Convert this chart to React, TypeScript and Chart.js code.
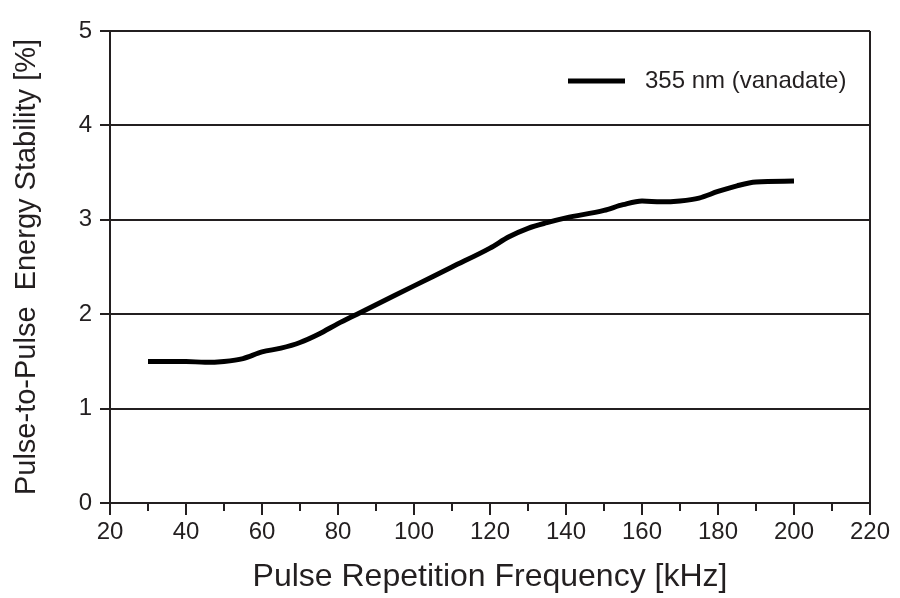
import { useEffect, useRef } from "react";
import { Chart, registerables } from "chart.js";

Chart.register(...registerables);

const frequencies = [30, 40, 45, 50, 55, 60, 65, 70, 75, 80, 85, 90, 100, 110, 120, 125, 130, 135, 140, 150, 155, 160, 165, 170, 175, 180, 185, 190, 200];
const stability = [1.5, 1.5, 1.49, 1.5, 1.53, 1.6, 1.64, 1.7, 1.79, 1.9, 2.0, 2.1, 2.3, 2.5, 2.7, 2.82, 2.91, 2.97, 3.02, 3.1, 3.16, 3.2, 3.19, 3.2, 3.23, 3.3, 3.36, 3.4, 3.41];
const seriesLabel = "355 nm (vanadate)";
const xTitle = "Pulse Repetition Frequency [kHz]";
const yTitle = "Pulse-to-Pulse  Energy Stability [%]";
const xMin = 20;
const xMax = 220;
const xMinorStep = 10;
const xMajorStep = 20;
const yMin = 0;
const yMax = 5;

const DARK = "#231f20";
const FONT = "'Liberation Sans', Arial, Helvetica, sans-serif";

const extrasPlugin = {
  id: "extras",
  afterDraw(chart: any) {
    const ctx = chart.ctx;
    const xs = chart.scales.x;
    const area = chart.chartArea;
    ctx.save();
    // minor ticks
    ctx.strokeStyle = DARK;
    ctx.lineWidth = 2;
    for (let v = xMin + xMinorStep; v < xMax; v += xMajorStep) {
      const px = Math.round(xs.getPixelForValue(v));
      ctx.beginPath();
      ctx.moveTo(px, area.bottom);
      ctx.lineTo(px, area.bottom + 8);
      ctx.stroke();
    }
    // legend
    const ds = chart.data.datasets[0];
    const ly = area.top + 50;
    const lx = area.right - 302;
    ctx.strokeStyle = ds.borderColor;
    ctx.lineWidth = 5;
    ctx.beginPath();
    ctx.moveTo(lx, ly);
    ctx.lineTo(lx + 57, ly);
    ctx.stroke();
    ctx.fillStyle = DARK;
    ctx.font = `24px ${FONT}`;
    ctx.textBaseline = "middle";
    ctx.textAlign = "left";
    ctx.fillText(ds.label, lx + 77, ly);
    ctx.restore();
  },
};

export default function App() {
  const ref = useRef<HTMLCanvasElement>(null);
  useEffect(() => {
    document.body.style.margin = "0";
    const chart = new Chart(ref.current!, {
      type: "line",
      data: {
        datasets: [
          {
            label: seriesLabel,
            data: frequencies.map((f, i) => ({ x: f, y: stability[i] })),
            borderColor: "#000000",
            borderWidth: 5,
            pointRadius: 0,
            cubicInterpolationMode: "monotone",
            fill: false,
          },
        ],
      },
      options: {
        animation: false,
        responsive: false,
        layout: { padding: { top: 31, right: 30, left: 0, bottom: 0 } },
        plugins: { legend: { display: false }, tooltip: { enabled: false } },
        scales: {
          x: {
            type: "linear",
            min: xMin,
            max: xMax,
            afterFit: (s: any) => {
              s.height = 95;
            },
            ticks: {
              stepSize: xMinorStep,
              autoSkip: false,
              maxRotation: 0,
              color: DARK,
              font: { size: 24, family: FONT },
              padding: 3,
              callback: (v: any) => (Number(v) % xMajorStep === 0 ? String(v) : ""),
            },
            grid: {
              drawOnChartArea: true,
              color: (c: any) => (c.tick && c.tick.value === xMax ? DARK : "rgba(0,0,0,0)"),
              tickColor: (c: any) => (c.tick && c.tick.value % xMajorStep === 0 ? DARK : "rgba(0,0,0,0)"),
              lineWidth: 2,
              tickWidth: 2,
              tickLength: 12,
            },
            border: { display: true, color: DARK, width: 2 },
            title: {
              display: true,
              text: xTitle,
              color: DARK,
              font: { size: 32, family: FONT },
              padding: { top: 0, bottom: 2 },
            },
          },
          y: {
            type: "linear",
            min: yMin,
            max: yMax,
            afterFit: (s: any) => {
              s.width = 110;
            },
            ticks: {
              stepSize: 1,
              color: DARK,
              font: { size: 24, family: FONT },
              padding: 8,
            },
            grid: {
              color: DARK,
              lineWidth: 2,
              tickLength: 10,
            },
            border: { display: true, color: DARK, width: 2 },
            title: {
              display: true,
              text: yTitle,
              color: DARK,
              font: { size: 29, family: FONT },
              padding: { top: 10, bottom: 0 },
            },
          },
        },
      },
      plugins: [extrasPlugin],
    } as any);
    return () => chart.destroy();
  }, []);
  return (
    <div style={{ position: "fixed", left: 0, top: 0, width: 900, height: 598, background: "#fff" }}>
      <canvas ref={ref} width={900} height={598} style={{ width: 900, height: 598 }} />
    </div>
  );
}
